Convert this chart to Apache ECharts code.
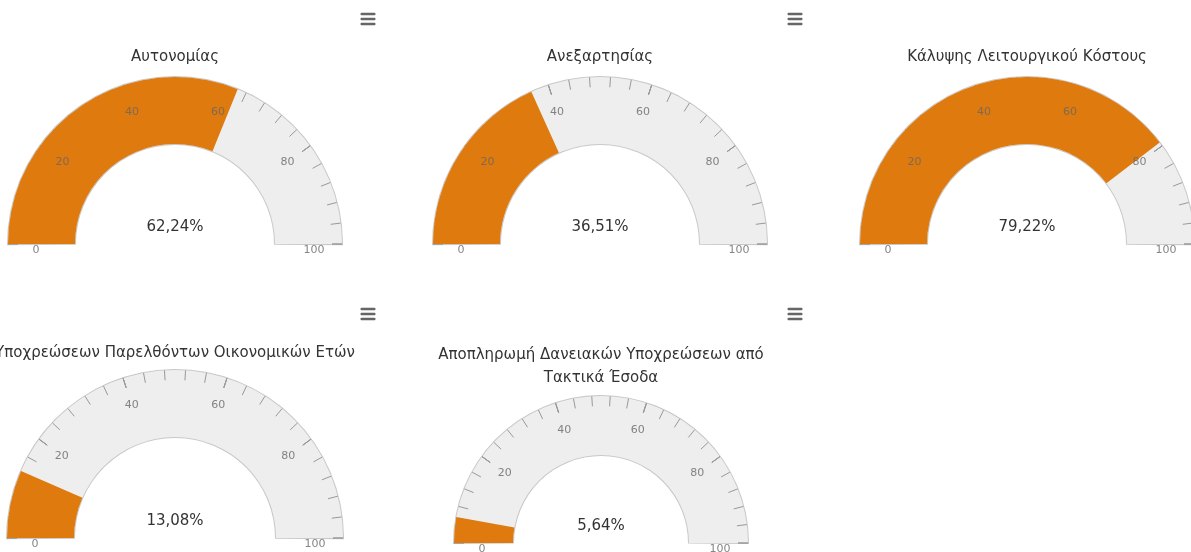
<!DOCTYPE html>
<html>
<head>
<meta charset="utf-8">
<script src="https://cdn.jsdelivr.net/npm/echarts@6/dist/echarts.min.js"></script>
<style>
html, body { margin: 0; padding: 0; background: #fff; }
#main { width: 1191px; height: 552px; }
</style>
</head>
<body>
<div id="main"></div>
<script>
// δεδομένα
const titles = [
    'Αυτονομίας',
    'Ανεξαρτησίας',
    'Κάλυψης Λειτουργικού Κόστους',
    'Υποχρεώσεων Παρελθόντων Οικονομικών Ετών',
    'Αποπληρωμή Δανειακών Υποχρεώσεων από\nΤακτικά Έσοδα'
];
const values = [62.24, 36.51, 79.22, 13.08, 5.64];
const tickLabels = [0, 20, 40, 60, 80, 100];
const gaugeMin = 0;
const gaugeMax = 100;

// θέση κάθε δείκτη (px)
const layout = [
    { cx: 175, cy: 244, r: 167, titleTop: 46 },
    { cx: 600, cy: 244, r: 167, titleTop: 46 },
    { cx: 1027, cy: 244, r: 167, titleTop: 46 },
    { cx: 175, cy: 538, r: 168, titleTop: 342 },
    { cx: 601, cy: 543, r: 147, titleTop: 344 }
];
const menuPos = [[368, 19], [795, 19], [368, 314], [795, 314]];

const ORANGE = '#df7a0e';
const FONT = 'DejaVu Sans';

const fmt = v => v.toFixed(2).replace('.', ',') + '%';

const title = [];
const polar = [];
const angleAxis = [];
const radiusAxis = [];
const series = [];

layout.forEach((g, i) => {
    const w = Math.round(g.r * 0.4);
    title.push({
        text: titles[i],
        left: g.cx,
        top: g.titleTop,
        textAlign: 'center',
        padding: 0,
        textStyle: { fontSize: 15, fontWeight: 'normal', color: '#333', fontFamily: FONT, lineHeight: 23 }
    });
    polar.push({ center: [g.cx, g.cy], radius: [0, g.r] });
    angleAxis.push({ polarIndex: i, type: 'value', min: 0, max: 200, startAngle: 180, clockwise: true, show: false });
    radiusAxis.push({ polarIndex: i, type: 'value', min: 0, max: g.r, show: false });

    // περίγραμμα
    series.push({
        type: 'gauge',
        center: [g.cx, g.cy],
        radius: g.r + 1,
        startAngle: 180.4,
        endAngle: -0.4,
        min: gaugeMin,
        max: gaugeMax,
        axisLine: { lineStyle: { width: w + 2, color: [[1, '#c8c8c8']] } },
        progress: { show: false },
        pointer: { show: false },
        anchor: { show: false },
        axisTick: { show: false },
        splitLine: { show: false },
        axisLabel: { show: false },
        title: { show: false },
        detail: { show: false },
        silent: true,
        data: [{ value: values[i] }]
    });

    // κύριος δείκτης
    series.push({
        type: 'gauge',
        center: [g.cx, g.cy],
        radius: g.r,
        startAngle: 180,
        endAngle: 0,
        min: gaugeMin,
        max: gaugeMax,
        splitNumber: 5,
        axisLine: { lineStyle: { width: w, color: [[1, '#eeeeee']] } },
        progress: { show: true, width: w, itemStyle: { color: ORANGE } },
        pointer: { show: false },
        anchor: { show: false },
        axisTick: { splitNumber: 5, length: 10, distance: -w, lineStyle: { color: '#999', width: 1 } },
        splitLine: { length: 10, distance: -w, lineStyle: { color: '#999', width: 1 } },
        axisLabel: { show: false },
        title: { show: false },
        detail: {
            valueAnimation: false,
            offsetCenter: [0, -17],
            fontSize: 15,
            fontWeight: 'normal',
            fontFamily: FONT,
            color: '#333',
            formatter: fmt
        },
        data: [{ value: values[i] }]
    });

    // ετικέτες κλίμακας
    series.push({
        type: 'scatter',
        coordinateSystem: 'polar',
        polarIndex: i,
        symbol: 'circle',
        symbolSize: 1,
        itemStyle: { color: 'transparent' },
        silent: true,
        z: 5,
        label: {
            show: true,
            position: 'inside',
            color: '#666',
            fontSize: 11,
            fontFamily: FONT,
            formatter: p => String(p.value[1])
        },
        data: tickLabels.map(t => ({
            value: [g.r - 28, t],
            label: { offset: [0, (t === gaugeMin || t === gaugeMax) ? 6 : 0] }
        }))
    });
});

const graphic = [];
menuPos.forEach(([x, y]) => {
    [-5, 0, 5].forEach(dy => {
        graphic.push({
            type: 'rect',
            shape: { x: x - 7.5, y: y + dy - 1.25, width: 15, height: 2.5, r: 1 },
            style: { fill: '#666' },
            silent: true
        });
    });
});

const myChart = echarts.init(document.getElementById('main'));
myChart.setOption({
    animation: false,
    backgroundColor: '#fff',
    title: title,
    polar: polar,
    angleAxis: angleAxis,
    radiusAxis: radiusAxis,
    graphic: graphic,
    series: series
});
</script>
</body>
</html>
